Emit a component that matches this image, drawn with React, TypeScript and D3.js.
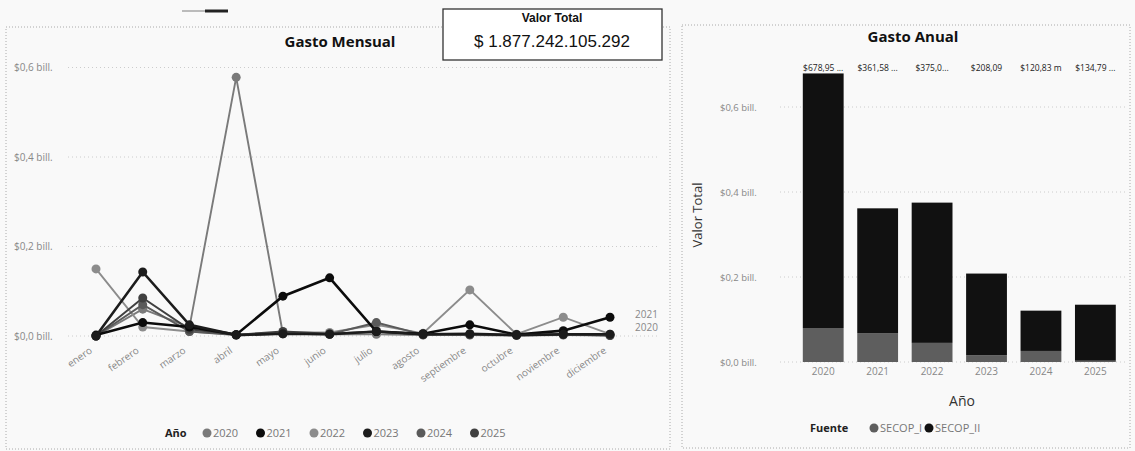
import React from "react";
import * as d3 from "d3";

const months = ["enero","febrero","marzo","abril","mayo","junio","julio","agosto","septiembre","octubre","noviembre","diciembre"];
const seriesYears = ["2020","2021","2022","2023","2024","2025"];
const v2020 = [0.0, 0.06, 0.02, 0.578, 0.005, 0.004, 0.004, 0.002, 0.002, 0.001, 0.002, 0.001];
const v2021 = [0.002, 0.03, 0.02, 0.003, 0.089, 0.13, 0.01, 0.005, 0.025, 0.003, 0.012, 0.042];
const v2022 = [0.15, 0.02, 0.01, 0.003, 0.008, 0.008, 0.025, 0.006, 0.103, 0.004, 0.042, 0.004];
const v2023 = [0.0, 0.143, 0.025, 0.002, 0.005, 0.004, 0.01, 0.004, 0.005, 0.002, 0.004, 0.004];
const v2024 = [0.0, 0.07, 0.01, 0.002, 0.005, 0.004, 0.03, 0.003, 0.004, 0.002, 0.004, 0.003];
const v2025 = [0.0, 0.085, 0.015, 0.003, 0.01, 0.005, 0.01, 0.003, 0.003, 0.002, 0.003, 0.001];
const monthlySeries = [v2020, v2021, v2022, v2023, v2024, v2025];
const seriesColors = ["#7a7a7a", "#0c0c0c", "#8c8c8c", "#1c1c1c", "#5a5a5a", "#404040"];
const yTicksLeft = [0, 0.2, 0.4, 0.6];
const yTickLabels = ["$0,0 bill.", "$0,2 bill.", "$0,4 bill.", "$0,6 bill."];

const barYears = ["2020","2021","2022","2023","2024","2025"];
const secopI = [0.08, 0.068, 0.045, 0.016, 0.026, 0.003];
const totals = [0.67895, 0.36158, 0.375, 0.20809, 0.12083, 0.13479];
const barLabels = ["$678,95 ...", "$361,58 ...", "$375,0...", "$208,09", "$120,83 m", "$134,79 ..."];
const fuentes = ["SECOP_I", "SECOP_II"];
const fuenteColors = ["#5e5e5e", "#111111"];

const FONT = "'Segoe UI', 'Open Sans', 'Noto Sans', sans-serif";

export default function App() {
  const xL = d3.scalePoint<string>().domain(months).range([96, 610]);
  const yL = d3.scaleLinear().domain([0, 0.6]).range([336, 67.5]);
  const line = d3.line<number>().x((_, i) => xL(months[i]) as number).y((d) => yL(d));

  const xB = d3.scaleBand<string>().domain(barYears).range([796, 1122.6]).paddingInner(0.25).paddingOuter(0.125);
  const yB = d3.scaleLinear().domain([0, 0.6]).range([362, 107]);

  const order = [0, 2, 4, 5, 1, 3];

  return (
    <div style={{ position: "fixed", left: 0, top: 0 }}>
      <svg width={1135} height={451} style={{ display: "block", background: "#f9f9f9", fontFamily: FONT }}>
        {/* small slider mark */}
        <line x1={182} y1={11} x2={205} y2={11} stroke="#bbb" strokeWidth={2} />
        <line x1={205} y1={11} x2={228} y2={11} stroke="#222" strokeWidth={3} />

        {/* Left panel */}
        <rect x={6} y={27} width={664} height={422} fill="none" stroke="#aaa" strokeDasharray="1,2" />
        <text x={340} y={47} textAnchor="middle" fontSize={15} fontWeight="bold" fill="#111">Gasto Mensual</text>
        {yTicksLeft.map((t, i) => (
          <g key={"gl" + i}>
            <line x1={68} x2={660} y1={yL(t)} y2={yL(t)} stroke="#ccc" strokeDasharray="1,3" />
            <text x={14} y={yL(t) + 3.5} fontSize={10} fill="#888">{yTickLabels[i]}</text>
          </g>
        ))}
        {months.map((m) => (
          <text key={m} transform={`translate(${(xL(m) as number) - 3},${352}) rotate(-35)`} textAnchor="end" fontSize={10} fill="#888">{m}</text>
        ))}
        {order.map((si) => (
          <g key={"s" + si}>
            <path d={line(monthlySeries[si]) as string} fill="none" stroke={seriesColors[si]} strokeWidth={si === 1 || si === 3 ? 2.6 : 1.9} />
            {monthlySeries[si].map((v, i) => (
              <circle key={i} cx={xL(months[i]) as number} cy={yL(v)} r={4.5} fill={seriesColors[si]} />
            ))}
          </g>
        ))}
        <text x={635} y={318} fontSize={10} fill="#888">2021</text>
        <text x={635} y={331} fontSize={10} fill="#888">2020</text>
        <text x={165} y={437} fontSize={11} fontWeight="bold" fill="#222">Año</text>
        {seriesYears.map((y, i) => (
          <g key={"lg" + y}>
            <circle cx={207 + i * 53.5} cy={433} r={4.5} fill={seriesColors[i]} />
            <text x={213 + i * 53.5} y={437} fontSize={11} fill="#777">{y}</text>
          </g>
        ))}

        {/* Valor Total card */}
        <rect x={443} y={9} width={219} height={51} fill="#fff" stroke="#333" strokeWidth={1.3} />
        <text x={552} y={22} textAnchor="middle" fontSize={12} fontWeight="bold" fill="#111" fontFamily="'Liberation Sans', Arial, sans-serif">Valor Total</text>
        <text x={552} y={47} textAnchor="middle" fontSize={17} fill="#111" fontFamily="'Liberation Sans', Arial, sans-serif">$ 1.877.242.105.292</text>

        {/* Right panel */}
        <rect x={682} y={25} width={448} height={423} fill="none" stroke="#aaa" strokeDasharray="1,2" />
        <text x={913} y={42} textAnchor="middle" fontSize={15} fontWeight="bold" fill="#111">Gasto Anual</text>
        {yTicksLeft.map((t, i) => (
          <g key={"gr" + i}>
            <line x1={780} x2={1125} y1={yB(t)} y2={yB(t)} stroke="#ccc" strokeDasharray="1,3" />
            <text x={720} y={yB(t) + 3.5} fontSize={9.5} fill="#888">{yTickLabels[i]}</text>
          </g>
        ))}
        <text transform={`translate(${702},${215}) rotate(-90)`} textAnchor="middle" fontSize={13} fill="#333">Valor Total</text>
        {barYears.map((y, i) => {
          const x = xB(y) as number;
          const w = xB.bandwidth();
          return (
            <g key={"b" + y}>
              <rect x={x} y={yB(secopI[i])} width={w} height={yB(0) - yB(secopI[i])} fill={fuenteColors[0]} />
              <rect x={x} y={yB(totals[i])} width={w} height={yB(secopI[i]) - yB(totals[i])} fill={fuenteColors[1]} />
              <text x={x + w / 2} y={375} textAnchor="middle" fontSize={10} fill="#888">{y}</text>
              <text x={x + w / 2} y={71} textAnchor="middle" fontSize={8.5} fill="#222">{barLabels[i]}</text>
            </g>
          );
        })}
        <text x={962} y={406} textAnchor="middle" fontSize={14} fill="#333">Año</text>
        <text x={810} y={432} fontSize={11} fontWeight="bold" fill="#222">Fuente</text>
        {fuentes.map((f, i) => (
          <g key={f}>
            <circle cx={874 + i * 55} cy={428} r={4.5} fill={fuenteColors[i]} />
            <text x={880 + i * 55} y={432} fontSize={11} fill="#777">{f}</text>
          </g>
        ))}
      </svg>
    </div>
  );
}
